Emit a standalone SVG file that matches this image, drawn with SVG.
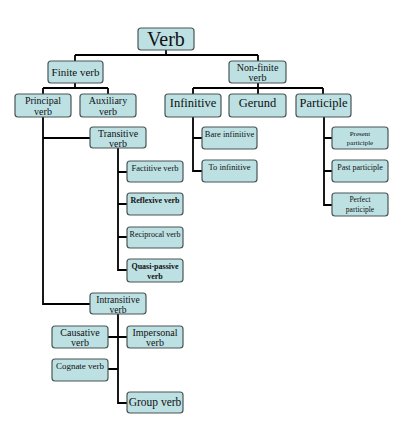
<svg xmlns="http://www.w3.org/2000/svg" width="400" height="424" viewBox="0 0 400 424">
<style>
.b{fill:#bde0e3;stroke:#4a5556;stroke-width:1.2}
.c{fill:none;stroke:#000;stroke-width:1.8}
text{font-family:"Liberation Serif","Times New Roman",serif;fill:#111;text-anchor:middle}
</style>
<rect width="400" height="424" fill="#fff"/>
<g id="connectors" class="c">
<path d="M166 50V55M75 55H258M75 55V61M258 55V61"/>
<path d="M75 83V88M43 88H108M43 88V94M108 88V94"/>
<path d="M258 83V88M193 88H323M193 88V94M258 88V94M323 88V94"/>
<path d="M43 117V304H90M43 138H90"/>
<path d="M193 117V171H202M193 138H202"/>
<path d="M324 117V205H332M324 138H332M324 171H332"/>
<path d="M118 148V270H127M118 172H127M118 204H127M118 237H127"/>
<path d="M118 314V403H127M108 337H127M108 369H118"/>
</g>
<g id="verb"><rect class="b" x="138" y="28" width="56" height="22" rx="3"/><text x="166" y="46" font-size="20">Verb</text></g>
<g id="finite"><rect class="b" x="48" y="61" width="55" height="22" rx="3"/><text x="75.5" y="75.5" font-size="11">Finite verb</text></g>
<g id="nonfinite"><rect class="b" x="229" y="61" width="57" height="22" rx="3"/><text x="257.5" y="71" font-size="10">Non-finite</text><text x="257.5" y="81" font-size="10">verb</text></g>
<g id="principal"><rect class="b" x="15" y="94" width="56" height="23" rx="3"/><text x="43" y="104" font-size="10">Principal</text><text x="43" y="115" font-size="10">verb</text></g>
<g id="auxiliary"><rect class="b" x="80" y="94" width="56" height="23" rx="3"/><text x="108" y="104" font-size="10">Auxiliary</text><text x="108" y="115" font-size="10">verb</text></g>
<g id="infinitive"><rect class="b" x="165" y="94" width="56" height="23" rx="3"/><text x="193" y="107" font-size="12.5">Infinitive</text></g>
<g id="gerund"><rect class="b" x="229" y="94" width="57" height="23" rx="3"/><text x="257.5" y="107" font-size="12.5">Gerund</text></g>
<g id="participle"><rect class="b" x="296" y="94" width="55" height="23" rx="3"/><text x="323.5" y="107" font-size="12.5">Participle</text></g>
<g id="bare"><rect class="b" x="202" y="127" width="55" height="22" rx="3"/><text x="229.5" y="137" font-size="8.5">Bare infinitive</text></g>
<g id="toinf"><rect class="b" x="202" y="160" width="55" height="22" rx="3"/><text x="229.5" y="170" font-size="8.5">To infinitive</text></g>
<g id="present"><rect class="b" x="332" y="127" width="56" height="22" rx="3"/><text x="360" y="136" font-size="7">Present</text><text x="360" y="145" font-size="7">participle</text></g>
<g id="past"><rect class="b" x="332" y="160" width="56" height="22" rx="3"/><text x="360" y="170" font-size="8">Past participle</text></g>
<g id="perfect"><rect class="b" x="332" y="193" width="56" height="23" rx="3"/><text x="360" y="202" font-size="7.5">Perfect</text><text x="360" y="212" font-size="7.5">participle</text></g>
<g id="transitive"><rect class="b" x="90" y="127" width="56" height="21" rx="3"/><text x="118" y="137" font-size="10">Transitive</text><text x="118" y="147" font-size="10">verb</text></g>
<g id="factitive"><rect class="b" x="127" y="161" width="56" height="21" rx="3"/><text x="155" y="171" font-size="8.5">Factitive verb</text></g>
<g id="reflexive"><rect class="b" x="127" y="193" width="56" height="22" rx="3"/><text x="155" y="203" font-size="8" font-weight="bold">Reflexive verb</text></g>
<g id="reciprocal"><rect class="b" x="127" y="227" width="56" height="21" rx="3"/><text x="155" y="237" font-size="8">Reciprocal verb</text></g>
<g id="quasi"><rect class="b" x="127" y="259" width="56" height="23" rx="3"/><text x="155" y="269" font-size="8" font-weight="bold">Quasi-passive</text><text x="155" y="279" font-size="8" font-weight="bold">verb</text></g>
<g id="intransitive"><rect class="b" x="90" y="293" width="56" height="21" rx="3"/><text x="118" y="303" font-size="9.5">Intransitive</text><text x="118" y="313" font-size="9.5">verb</text></g>
<g id="causative"><rect class="b" x="52" y="326" width="56" height="22" rx="3"/><text x="80" y="336" font-size="10">Causative</text><text x="80" y="346" font-size="10">verb</text></g>
<g id="impersonal"><rect class="b" x="127" y="326" width="56" height="22" rx="3"/><text x="155" y="336" font-size="10">Impersonal</text><text x="155" y="346" font-size="10">verb</text></g>
<g id="cognate"><rect class="b" x="52" y="359" width="56" height="22" rx="3"/><text x="80" y="369" font-size="9">Cognate verb</text></g>
<g id="group"><rect class="b" x="127" y="392" width="56" height="21" rx="3"/><text x="155" y="406" font-size="11.5">Group verb</text></g>
</svg>
